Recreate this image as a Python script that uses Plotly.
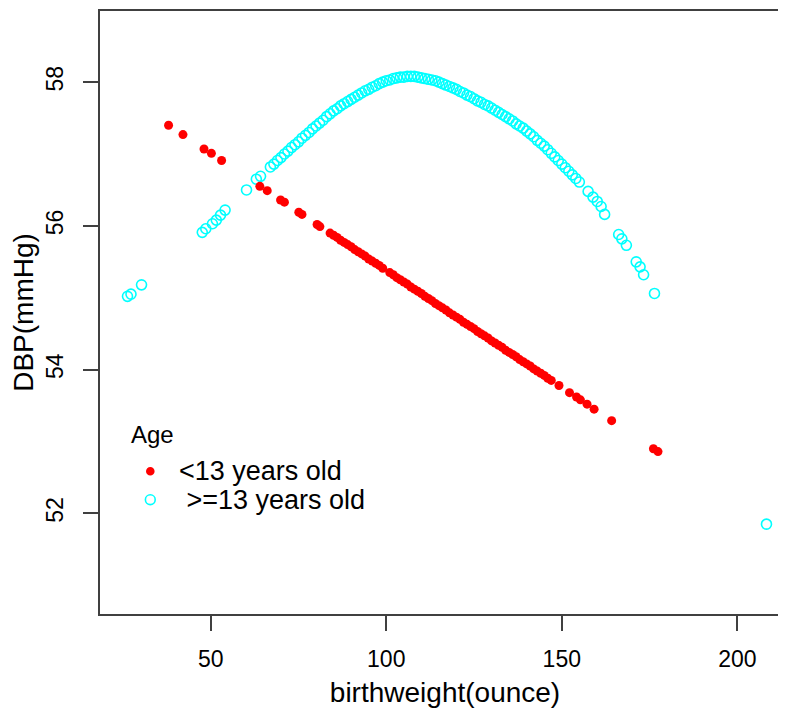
import plotly.graph_objects as go

# ---------------- data ----------------
young_x = [38.0, 42.1, 48.1, 50.2, 53.1, 64.0, 66.1, 69.9, 71.0, 75.1, 76.0, 80.3, 81.1,
           84, 85, 86, 87, 88, 89, 90, 91, 92, 93, 94, 95, 96, 97, 98, 99,
           101, 102, 103, 104, 105, 106, 107, 108, 109, 110,
           111, 112, 113, 114, 115, 116, 117, 118, 119, 120,
           121, 122, 123, 124, 125, 126, 127, 128, 129, 130,
           131, 132, 133, 134, 135, 136, 137, 138, 139, 140,
           141, 142, 143, 144, 145, 146, 147,
           149.2, 152.2, 154.2, 155.3, 157.2, 159.2, 164.2, 176.1, 177.4]
young_y = [57.40, 57.27, 57.07, 57.01, 56.91, 56.55, 56.49, 56.36, 56.33, 56.19, 56.16, 56.02, 55.99,
           55.90, 55.87, 55.84, 55.80, 55.77, 55.74, 55.71, 55.67, 55.64, 55.61, 55.58, 55.54, 55.51, 55.48, 55.45, 55.41,
           55.35, 55.32, 55.28, 55.25, 55.22, 55.19, 55.15, 55.12, 55.09, 55.06,
           55.02, 54.99, 54.96, 54.92, 54.89, 54.86, 54.83, 54.79, 54.76, 54.73,
           54.70, 54.66, 54.63, 54.60, 54.57, 54.53, 54.50, 54.47, 54.44, 54.40,
           54.37, 54.34, 54.31, 54.27, 54.24, 54.21, 54.18, 54.14, 54.11, 54.08,
           54.05, 54.01, 53.98, 53.95, 53.92, 53.88, 53.85,
           53.78, 53.68, 53.62, 53.58, 53.52, 53.45, 53.29, 52.90, 52.86]

old_x = [26.3, 27.3, 30.3, 47.6, 48.6, 50.5, 51.6, 52.8, 54.1, 60.2, 63.0, 64.2,
         67, 68, 69, 70, 71, 72, 73, 74, 75, 76,
         77, 78, 79, 80, 81, 82, 83, 84, 85, 86,
         87, 88, 89, 90, 91, 92, 93, 94, 95, 96,
         97, 98, 99, 100, 101, 102, 103, 104, 105, 106,
         107, 108, 109, 110, 111, 112, 113, 114, 115, 116,
         117, 118, 119, 120, 121, 122, 123, 124, 125, 126,
         127, 128, 129, 130, 131, 132, 133, 134, 135, 136,
         137, 138, 139, 140, 141, 142, 143, 144, 145, 146,
         147, 148, 149, 150, 151, 152, 153, 154, 155,
         157.5, 158.9, 160.1, 161.2, 162.2, 166.2, 167.1, 168.4, 171.2, 172.3, 173.3, 176.4, 208.3]
old_y = [55.02, 55.05, 55.18, 55.91, 55.96, 56.03, 56.08, 56.15, 56.22, 56.50, 56.65, 56.69,
         56.82, 56.86, 56.91, 56.95, 57.00, 57.04, 57.09, 57.13, 57.17, 57.22,
         57.26, 57.30, 57.35, 57.39, 57.43, 57.47, 57.52, 57.56, 57.60, 57.63,
         57.67, 57.70, 57.73, 57.76, 57.79, 57.82, 57.85, 57.88, 57.90, 57.93,
         57.95, 57.98, 58.00, 58.02, 58.03, 58.05, 58.06, 58.07, 58.07, 58.08,
         58.08, 58.08, 58.07, 58.06, 58.05, 58.04, 58.03, 58.02, 58.00, 57.98,
         57.96, 57.94, 57.92, 57.90, 57.87, 57.85, 57.82, 57.80, 57.77, 57.74,
         57.72, 57.69, 57.67, 57.64, 57.61, 57.58, 57.55, 57.52, 57.49, 57.46,
         57.42, 57.39, 57.36, 57.32, 57.28, 57.24, 57.19, 57.15, 57.11, 57.06,
         57.01, 56.96, 56.91, 56.86, 56.81, 56.76, 56.71, 56.66, 56.61,
         56.48, 56.40, 56.34, 56.27, 56.16, 55.88, 55.82, 55.73, 55.50, 55.43, 55.32, 55.06, 51.85]

x_tick_vals = [50, 100, 150, 200]
x_tick_text = ["50", "100", "150", "200"]
y_tick_vals = [52, 54, 56, 58]
y_tick_text = ["52", "54", "56", "58"]

legend_title = "Age"
series_names = ["<13 years old", " >=13 years old"]
x_title = "birthweight(ounce)"
y_title = "DBP(mmHg)"

# ---------------- styling / layout ----------------
W, H = 786, 711
ML, MR, MT, MB = 92, 4, 3, 105
PW, PH = W - ML - MR, H - MT - MB
FONT = "Liberation Sans, Arial, Helvetica, sans-serif"
RED = "#FF0000"
CYAN = "#00FFFF"
AXC = "#404040"


def px(xp):
    return (xp - ML) / PW


def py(yp):
    return (H - MB - yp) / PH


fig = go.Figure()
fig.add_trace(go.Scatter(
    x=old_x, y=old_y, mode="markers", name=series_names[1], showlegend=False,
    marker=dict(symbol="circle-open", size=10, color=CYAN, line=dict(width=1.6, color=CYAN)),
))
fig.add_trace(go.Scatter(
    x=young_x, y=young_y, mode="markers", name=series_names[0], showlegend=False,
    marker=dict(symbol="circle", size=9, color=RED, line=dict(width=0)),
))

axis_common = dict(
    showgrid=False, zeroline=False, showline=True, mirror=True,
    linecolor=AXC, linewidth=2, ticks="outside", ticklen=15, tickwidth=2,
    tickcolor=AXC, automargin=False,
    tickfont=dict(family=FONT, size=23, color="black"),
)

fig.update_layout(
    width=W, height=H,
    margin=dict(l=ML, r=MR, t=MT, b=MB, pad=0),
    paper_bgcolor="white", plot_bgcolor="white",
    font=dict(family=FONT, color="black"),
    xaxis=dict(range=[18.47, 215.0], tickmode="array", tickvals=x_tick_vals,
               ticktext=x_tick_text, ticklabelstandoff=8,
               title=dict(text=x_title, font=dict(family=FONT, size=28, color="black"), standoff=12),
               **axis_common),
    yaxis=dict(range=[50.60, 58.99], tickmode="array", tickvals=y_tick_vals,
               ticktext=y_tick_text, tickangle=-90, ticklabelstandoff=11,
               title=dict(text=y_title, font=dict(family=FONT, size=28, color="black"), standoff=8),
               **axis_common),
)

# manual legend (R-style, inside plot)
shapes = []
r1 = 4.3
cx, cy = 142.3, 463.3
shapes.append(dict(type="circle", xref="paper", yref="paper",
                   x0=px(cx - r1), x1=px(cx + r1), y0=py(cy + r1), y1=py(cy - r1),
                   fillcolor=RED, line=dict(width=0)))
r2 = 4.9
cx, cy = 142.3, 491.7
shapes.append(dict(type="circle", xref="paper", yref="paper",
                   x0=px(cx - r2), x1=px(cx + r2), y0=py(cy + r2), y1=py(cy - r2),
                   fillcolor="rgba(0,0,0,0)", line=dict(width=1.6, color=CYAN)))
fig.update_layout(shapes=shapes)

fig.add_annotation(text=legend_title, xref="paper", yref="paper", x=px(120.5), y=py(426.7),
                   xanchor="left", yanchor="middle", showarrow=False,
                   font=dict(family=FONT, size=24, color="black"))
fig.add_annotation(text=series_names[0], xref="paper", yref="paper", x=px(168.5), y=py(463.3),
                   xanchor="left", yanchor="middle", showarrow=False,
                   font=dict(family=FONT, size=27, color="black"))
fig.add_annotation(text=series_names[1].replace(" ", "\u00a0", 1), xref="paper", yref="paper",
                   x=px(168.5), y=py(491.7),
                   xanchor="left", yanchor="middle", showarrow=False,
                   font=dict(family=FONT, size=27, color="black"))

fig.write_html("out.html")
